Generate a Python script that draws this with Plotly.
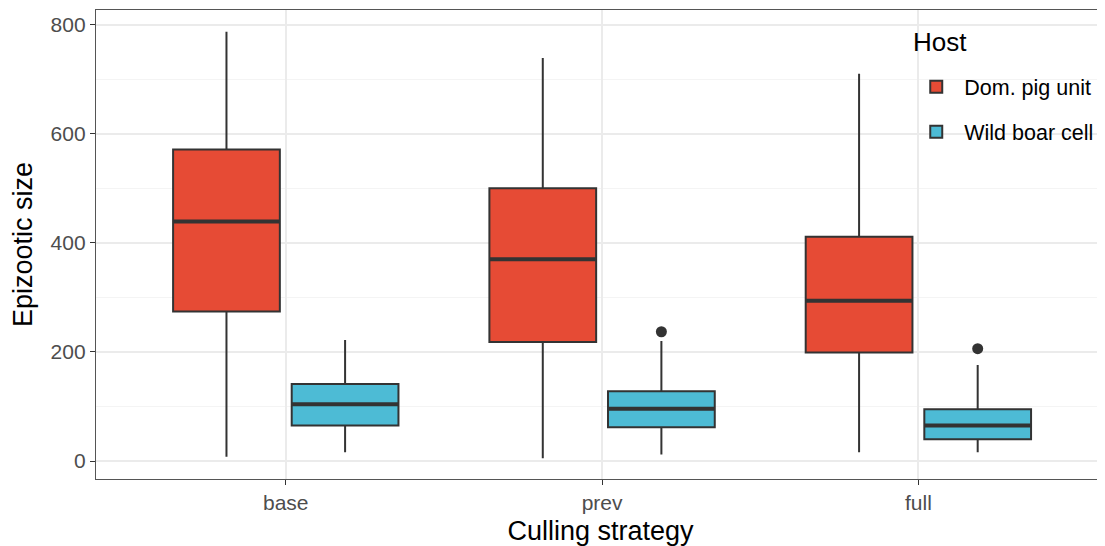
import plotly.graph_objects as go

# box statistics
strategies = ['base', 'prev', 'full']

pig_low = [8, 5, 16]
pig_q1 = [274, 218, 199]
pig_median = [439, 370, 294]
pig_q3 = [571, 500, 411]
pig_high = [787, 739, 710]

boar_low = [16, 12, 16]
boar_q1 = [65, 62, 40]
boar_median = [104, 96, 65]
boar_q3 = [141, 128, 95]
boar_high = [222, 220, 176]
boar_outliers = [[None], [237], [206]]

line_col = '#333333'
font = 'Liberation Sans, Arial, sans-serif'

fig = go.Figure()
fig.add_trace(go.Box(x=strategies, q1=pig_q1, median=pig_median, q3=pig_q3,
                     lowerfence=pig_low, upperfence=pig_high, name='Dom. pig unit',
                     fillcolor='#E64B35', line=dict(color=line_col, width=2),
                     whiskerwidth=0, boxpoints=False, offsetgroup='pig', legendgroup='pig'))
fig.add_trace(go.Box(x=strategies, y=boar_outliers, q1=boar_q1, median=boar_median, q3=boar_q3,
                     lowerfence=boar_low, upperfence=boar_high, name='Wild boar cell',
                     fillcolor='#4DBBD5', line=dict(color=line_col, width=2),
                     whiskerwidth=0, boxpoints='outliers', pointpos=0, jitter=0,
                     marker=dict(color=line_col, size=11), offsetgroup='boar', legendgroup='boar'))

# thicker median bars, as in ggplot
for med, grp in [(pig_median, 'pig'), (boar_median, 'boar')]:
    fig.add_trace(go.Box(x=strategies, q1=med, median=med, q3=med, lowerfence=med, upperfence=med,
                         fillcolor='rgba(0,0,0,0)', line=dict(color=line_col, width=4),
                         whiskerwidth=0, boxpoints=False, offsetgroup=grp, showlegend=False,
                         hoverinfo='skip'))

# legend title drawn separately so the keys can sit lower
fig.add_annotation(text='Host', xref='paper', yref='paper', x=0.808, y=0.932,
                   xanchor='left', yanchor='middle', showarrow=False,
                   font={'size': 26, 'color': '#000000'})

fig.update_layout(
    width=1097, height=538, boxmode='group', boxgap=0.25, boxgroupgap=0.1,
    plot_bgcolor='white', paper_bgcolor='white',
    margin={'l': 88, 'r': 0, 't': 2, 'b': 67},
    font={'family': font, 'color': '#000000'},
    legend={'font': {'size': 21.5, 'color': '#000000'}, 'x': 0.805, 'y': 0.88,
            'xanchor': 'left', 'yanchor': 'top', 'bgcolor': 'rgba(0,0,0,0)',
            'tracegroupgap': 14, 'itemwidth': 46},
    xaxis={'title': {'text': 'Culling strategy', 'font': {'size': 27}, 'standoff': 8},
           'range': [-0.6, 2.59], 'showgrid': True, 'gridcolor': '#ebebeb', 'gridwidth': 1.5,
           'showline': True, 'mirror': True, 'linecolor': '#555555', 'linewidth': 1.3,
           'ticks': 'outside', 'ticklen': 5, 'tickcolor': '#333333',
           'tickfont': {'size': 21, 'color': '#4d4d4d'}, 'zeroline': False},
    yaxis={'title': {'text': 'Epizootic size', 'font': {'size': 27}, 'standoff': 10},
           'range': [-33, 827], 'dtick': 200, 'tick0': 0,
           'showgrid': True, 'gridcolor': '#ebebeb', 'gridwidth': 1.5,
           'minor': {'dtick': 100, 'tick0': 0, 'showgrid': True, 'gridcolor': '#f4f4f4', 'gridwidth': 1},
           'showline': True, 'mirror': False, 'linecolor': '#555555', 'linewidth': 1.3,
           'ticks': 'outside', 'ticklen': 5, 'tickcolor': '#333333',
           'tickfont': {'size': 21, 'color': '#4d4d4d'}, 'zeroline': False},
)

fig.write_html('out.html')
